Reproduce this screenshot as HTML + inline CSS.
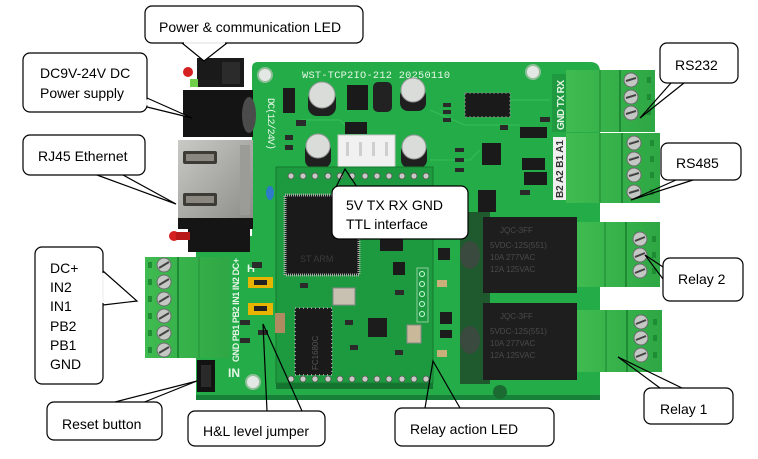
<!DOCTYPE html>
<html><head><meta charset="utf-8">
<style>
html,body{margin:0;padding:0;background:#fff;}
svg{display:block;}
.t{font-family:"Liberation Sans",Arial,sans-serif;font-size:14px;fill:#000;}
.bt{font-family:"Liberation Mono",monospace;fill:#e9f7ea;}
.lb{font-family:"Liberation Sans",Arial,sans-serif;font-weight:bold;fill:#e6f5e6;}
.rt{font-family:"Liberation Sans",Arial,sans-serif;font-size:8px;fill:#4a4a4a;}
</style></head>
<body>
<svg width="758" height="459" viewBox="0 0 758 459" xmlns="http://www.w3.org/2000/svg">
<defs>
<linearGradient id="rj" x1="0" y1="0" x2="1" y2="1">
<stop offset="0" stop-color="#c9c9c6"/><stop offset="1" stop-color="#8d8d89"/>
</linearGradient>
<linearGradient id="tg" x1="0" y1="0" x2="1" y2="0">
<stop offset="0" stop-color="#3fbb50"/><stop offset="1" stop-color="#2ea744"/>
</linearGradient>
</defs>
<rect width="758" height="459" fill="#fff"/>

<!-- main board -->
<path d="M196,236 L252,236 L252,68 Q252,62 258,62 L590,62 Q600,62 600,72 L600,394 Q600,400 594,400 L196,400 Z" fill="#23ac48"/>
<rect x="196" y="395" width="404" height="5" fill="#17813a"/>
<!-- traces -->
<g stroke="#38c15a" stroke-width="1.2" fill="none" opacity="0.8">
<path d="M300,120 L340,120 L360,140"/><path d="M430,110 L465,125 L520,125"/><path d="M430,160 L470,160 L480,150"/>
<path d="M510,100 L550,100"/><path d="M280,240 L276,250"/><path d="M440,220 L460,220"/>
</g>
<!-- holes -->
<circle cx="265" cy="75" r="7" fill="#e4e8e4" stroke="#8fbf98" stroke-width="2"/>
<circle cx="533" cy="72" r="7" fill="#e4e8e4" stroke="#8fbf98" stroke-width="2"/>
<circle cx="253" cy="382" r="7" fill="#e4e8e4" stroke="#8fbf98" stroke-width="2"/>
<!-- board text -->
<text class="bt" x="302" y="78" font-size="10.3" textLength="148">WST-TCP2IO-212  20250110</text>
<text class="bt" font-size="10" transform="translate(268,98) rotate(90)" textLength="52">DC(12/24V)</text>

<!-- top components -->
<rect x="283" y="88" width="12" height="25" fill="#1b1b1b"/>
<rect x="308" y="90" width="28" height="26" rx="9" fill="#1f1f1f"/>
<circle cx="322" cy="95" r="13" fill="#d9dcd9" stroke="#999" stroke-width="1"/>
<rect x="347" y="85" width="21" height="25" fill="#1a1a1a"/>
<rect x="373" y="82" width="19" height="30" rx="5" fill="#222"/>
<rect x="400" y="88" width="26" height="23" rx="8" fill="#1f1f1f"/>
<circle cx="413" cy="90" r="12" fill="#d9dcd9" stroke="#999" stroke-width="1"/>
<rect x="305" y="142" width="26" height="26" rx="8" fill="#1f1f1f"/>
<circle cx="318" cy="146" r="12" fill="#d9dcd9" stroke="#999" stroke-width="1"/>
<rect x="401" y="143" width="26" height="25" rx="8" fill="#1f1f1f"/>
<circle cx="414" cy="147" r="12" fill="#d9dcd9" stroke="#999" stroke-width="1"/>
<rect x="345" y="122" width="22" height="12" fill="#1a1a1a"/>
<rect x="338" y="135" width="57" height="33" fill="#f1f1f1" stroke="#c8c8c8"/>
<g fill="#cfcfcf"><rect x="346" y="142" width="3" height="14"/><rect x="359" y="142" width="3" height="14"/><rect x="372" y="142" width="3" height="14"/><rect x="385" y="142" width="3" height="14"/></g>
<rect x="465" y="93" width="45" height="24" fill="#1a1a1a" stroke="#888" stroke-dasharray="2,2"/>
<rect x="482" y="143" width="19" height="22" fill="#1a1a1a"/>
<rect x="478" y="190" width="18" height="22" fill="#1a1a1a"/>
<rect x="520" y="127" width="27" height="11" fill="#1a1a1a"/>
<rect x="522" y="158" width="23" height="12" fill="#1a1a1a"/>
<rect x="524" y="172" width="23" height="13" fill="#1a1a1a"/>
<g fill="#2a2a2a">
<rect x="296" y="120" width="10" height="6"/><rect x="285" y="135" width="8" height="5"/><rect x="285" y="145" width="8" height="5"/>
<rect x="443" y="103" width="8" height="4"/><rect x="443" y="110" width="8" height="4"/><rect x="443" y="118" width="8" height="4"/>
<rect x="455" y="148" width="9" height="4"/><rect x="455" y="158" width="9" height="4"/><rect x="455" y="168" width="9" height="4"/>
<rect x="540" y="117" width="10" height="5"/><rect x="500" y="125" width="8" height="5"/><rect x="520" y="190" width="10" height="5"/>
</g>

<!-- power jack & LED -->
<rect x="183" y="90" width="70" height="47" fill="#141414"/>
<ellipse cx="249" cy="115" rx="7" ry="18" fill="#4b4b4b"/>
<rect x="197" y="58" width="47" height="29" fill="#1a1a1a"/>
<rect x="222" y="62" width="18" height="22" fill="#2b2b2b"/>
<circle cx="188" cy="72" r="5" fill="#d42020"/>
<rect x="190" y="79" width="8" height="8" fill="#6fcf4a"/>

<!-- RJ45 -->
<rect x="178" y="140" width="75" height="78" fill="url(#rj)"/>
<rect x="178" y="218" width="75" height="11" fill="#151515"/>
<rect x="183" y="151" width="34" height="13" rx="2" fill="#3c3b36"/>
<rect x="186" y="154" width="28" height="7" fill="#8a8780"/>
<rect x="183" y="193" width="34" height="13" rx="2" fill="#3c3b36"/>
<rect x="186" y="196" width="28" height="7" fill="#8a8780"/>
<rect x="240" y="145" width="10" height="70" fill="#9b9b97"/>

<!-- left LED holder -->
<rect x="188" y="226" width="62" height="26" fill="#151515"/>
<circle cx="174" cy="236" r="5" fill="#d42020"/>
<rect x="176" y="232" width="14" height="8" fill="#b81818"/>

<!-- reset -->
<rect x="197" y="360" width="18" height="32" fill="#121212"/>
<rect x="201" y="365" width="10" height="22" fill="#2a2a2a"/>

<!-- left terminal -->
<rect x="145" y="257" width="85" height="101" fill="url(#tg)"/>
<line x1="178" y1="257" x2="178" y2="358" stroke="#1f8a34" stroke-width="2"/>
<line x1="199" y1="257" x2="199" y2="358" stroke="#2a9a3c" stroke-width="1.5"/>
<g fill="#1e8c33"><rect x="148" y="262" width="4" height="6"/><rect x="148" y="279" width="4" height="6"/><rect x="148" y="296" width="4" height="6"/><rect x="148" y="313" width="4" height="6"/><rect x="148" y="330" width="4" height="6"/><rect x="148" y="347" width="4" height="6"/></g>
<g stroke="#6b6b6b" fill="#c4c8c4" stroke-width="1">
<circle cx="164" cy="265" r="7"/><circle cx="164" cy="282" r="7"/><circle cx="164" cy="299" r="7"/><circle cx="164" cy="316" r="7"/><circle cx="164" cy="333" r="7"/><circle cx="164" cy="350" r="7"/>
</g>
<g stroke="#444" stroke-width="2"><line x1="159" y1="268" x2="169" y2="262"/><line x1="159" y1="285" x2="169" y2="279"/><line x1="159" y1="302" x2="169" y2="296"/><line x1="159" y1="319" x2="169" y2="313"/><line x1="159" y1="336" x2="169" y2="330"/><line x1="159" y1="353" x2="169" y2="347"/></g>
<text class="lb" font-size="9" transform="translate(239,362) rotate(-90)" textLength="104">GND  PB1  PB2  IN1  IN2  DC+</text>
<text class="lb" font-size="12" x="228" y="377">IN</text>
<text class="lb" font-size="11" x="247" y="272">H</text>

<!-- jumpers -->
<rect x="248" y="277" width="25" height="11" fill="#e8b400"/>
<rect x="254" y="280" width="13" height="5" fill="#222"/>
<rect x="248" y="303" width="25" height="12" fill="#e8b400"/>
<rect x="254" y="306" width="13" height="5" fill="#222"/>
<g fill="#2a2a2a"><rect x="252" y="262" width="10" height="6"/><rect x="240" y="320" width="10" height="5"/><rect x="258" y="330" width="10" height="5"/><rect x="240" y="338" width="10" height="5"/></g>

<!-- module board -->
<rect x="276" y="383" width="157" height="6" fill="#15742f"/>
<rect x="276" y="167" width="157" height="216" fill="#1d9a40" stroke="#167a2e"/>
<g fill="#c7c9c4" stroke="#555" stroke-width="0.8">
<circle cx="291" cy="176" r="3"/><circle cx="303" cy="176" r="3"/><circle cx="315" cy="176" r="3"/><circle cx="328" cy="176" r="3"/><circle cx="340" cy="176" r="3"/><circle cx="352" cy="176" r="3"/><circle cx="365" cy="176" r="3"/><circle cx="377" cy="176" r="3"/><circle cx="389" cy="176" r="3"/><circle cx="402" cy="176" r="3"/><circle cx="414" cy="176" r="3"/><circle cx="426" cy="176" r="3"/>
<circle cx="291" cy="379" r="3"/><circle cx="303" cy="379" r="3"/><circle cx="315" cy="379" r="3"/><circle cx="328" cy="379" r="3"/><circle cx="340" cy="379" r="3"/><circle cx="352" cy="379" r="3"/><circle cx="365" cy="379" r="3"/><circle cx="377" cy="379" r="3"/><circle cx="389" cy="379" r="3"/><circle cx="402" cy="379" r="3"/><circle cx="414" cy="379" r="3"/><circle cx="426" cy="379" r="3"/>
</g>
<rect x="285" y="195" width="74" height="80" fill="#1a1a1a" stroke="#aaa" stroke-width="3" stroke-dasharray="1,1"/>
<text x="300" y="262" font-family="Liberation Sans,Arial,sans-serif" font-size="9" fill="#3a3a3a">ST ARM</text>
<ellipse cx="270" cy="193" rx="4" ry="7" fill="#2d7bc9"/>
<rect x="333" y="288" width="22" height="17" fill="#c8c1b2" stroke="#888"/>
<rect x="295" y="308" width="37" height="67" fill="#1a1a1a" stroke="#999" stroke-width="2" stroke-dasharray="1,3"/>
<text font-family="Liberation Sans,Arial,sans-serif" font-size="8" fill="#555" transform="translate(318,370) rotate(-90)">FC1680C</text>
<rect x="368" y="318" width="19" height="19" fill="#1c1c1c"/>
<rect x="407" y="325" width="14" height="18" fill="#c9b99a" stroke="#888"/>
<rect x="275" y="313" width="10" height="20" fill="#b08a60"/>
<rect x="380" y="237" width="23" height="14" fill="#1a1a1a"/>
<rect x="393" y="262" width="12" height="13" fill="#1a1a1a"/>
<rect x="417" y="268" width="11" height="54" fill="none" stroke="#8fcf9c"/>
<g fill="none" stroke="#cfd" stroke-width="1"><circle cx="422" cy="274" r="2.5"/><circle cx="422" cy="284" r="2.5"/><circle cx="422" cy="294" r="2.5"/><circle cx="422" cy="304" r="2.5"/><circle cx="422" cy="314" r="2.5"/></g>
<g fill="#2a2a2a"><rect x="300" y="283" width="8" height="5"/><rect x="345" y="320" width="8" height="5"/><rect x="350" y="345" width="8" height="5"/><rect x="395" y="350" width="8" height="5"/><rect x="395" y="290" width="9" height="5"/></g>

<!-- relay area small parts -->
<g fill="#1c1c1c"><rect x="438" y="248" width="12" height="12"/><rect x="440" y="312" width="12" height="12"/><rect x="440" y="330" width="12" height="8"/><rect x="437" y="232" width="10" height="5"/></g>
<rect x="437" y="280" width="10" height="7" fill="#c9b07a"/>
<rect x="437" y="350" width="10" height="7" fill="#c9b07a"/>

<!-- relays -->
<rect x="460" y="212" width="30" height="172" fill="#1e5a2e"/>
<ellipse cx="470" cy="255" rx="10" ry="14" fill="#3b4a3e"/>
<ellipse cx="470" cy="340" rx="10" ry="14" fill="#3b4a3e"/>
<rect x="483" y="217" width="94" height="76" fill="#1e1e1e"/>
<rect x="483" y="303" width="94" height="77" fill="#1e1e1e"/>
<text class="rt" x="500" y="233" font-size="10">JQC-3FF</text>
<text class="rt" x="490" y="248">5VDC-12S(551)</text>
<text class="rt" x="490" y="260">10A 277VAC</text>
<text class="rt" x="490" y="272">12A 125VAC</text>
<text class="rt" x="500" y="319" font-size="10">JQC-3FF</text>
<text class="rt" x="490" y="334">5VDC-12S(551)</text>
<text class="rt" x="490" y="346">10A 277VAC</text>
<text class="rt" x="490" y="358">12A 125VAC</text>
<circle cx="500" cy="392" r="7" fill="#1b6a32"/>

<!-- RS232 terminal -->
<rect x="566" y="70" width="89" height="62" fill="url(#tg)"/>
<line x1="600" y1="70" x2="600" y2="132" stroke="#25953a" stroke-width="1.5"/>
<line x1="620" y1="70" x2="620" y2="132" stroke="#1f8a34" stroke-width="2"/>
<!-- RS485 terminal -->
<rect x="566" y="133" width="94" height="70" fill="url(#tg)"/>
<line x1="600" y1="133" x2="600" y2="203" stroke="#25953a" stroke-width="1.5"/>
<line x1="622" y1="133" x2="622" y2="203" stroke="#1f8a34" stroke-width="2"/>
<!-- vertical labels right (drawn over terminals) -->
<rect x="552" y="74" width="14" height="58" fill="#1f9a40"/>
<text class="lb" font-size="10" transform="translate(564,130) rotate(-90)" textLength="50">GND TX RX</text>
<rect x="553" y="137" width="13" height="63" fill="#f0f0f0"/>
<text font-family="Liberation Sans,Arial,sans-serif" font-weight="bold" font-size="10" fill="#333" transform="translate(563,198) rotate(-90)" textLength="58">B2 A2 B1 A1</text>
<!-- relay terminals -->
<rect x="577" y="222" width="83" height="65" fill="url(#tg)"/>
<line x1="605" y1="222" x2="605" y2="287" stroke="#25953a" stroke-width="1.5"/>
<line x1="626" y1="222" x2="626" y2="287" stroke="#1f8a34" stroke-width="2"/>
<rect x="577" y="310" width="85" height="62" fill="url(#tg)"/>
<line x1="606" y1="310" x2="606" y2="372" stroke="#25953a" stroke-width="1.5"/>
<line x1="627" y1="310" x2="627" y2="372" stroke="#1f8a34" stroke-width="2"/>
<g fill="#1e8c33">
<rect x="647" y="77" width="4" height="6"/><rect x="647" y="94" width="4" height="6"/><rect x="647" y="109" width="4" height="6"/>
<rect x="650" y="140" width="4" height="6"/><rect x="650" y="156" width="4" height="6"/><rect x="650" y="172" width="4" height="6"/><rect x="650" y="189" width="4" height="6"/>
<rect x="652" y="236" width="4" height="6"/><rect x="652" y="252" width="4" height="6"/><rect x="652" y="268" width="4" height="6"/>
<rect x="653" y="319" width="4" height="6"/><rect x="653" y="335" width="4" height="6"/><rect x="653" y="352" width="4" height="6"/>
</g>
<g stroke="#6b6b6b" fill="#c4c8c4" stroke-width="1">
<circle cx="631" cy="80" r="7"/><circle cx="631" cy="97" r="7"/><circle cx="631" cy="113" r="7"/>
<circle cx="634" cy="143" r="7"/><circle cx="634" cy="159" r="7"/><circle cx="634" cy="175" r="7"/><circle cx="634" cy="192" r="7"/>
<circle cx="640" cy="239" r="7"/><circle cx="640" cy="255" r="7"/><circle cx="640" cy="271" r="7"/>
<circle cx="641" cy="322" r="7"/><circle cx="641" cy="338" r="7"/><circle cx="641" cy="355" r="7"/>
</g>
<g stroke="#444" stroke-width="2">
<line x1="626" y1="81" x2="636" y2="78"/><line x1="626" y1="98" x2="636" y2="95"/><line x1="626" y1="114" x2="636" y2="111"/>
<line x1="629" y1="144" x2="639" y2="141"/><line x1="629" y1="160" x2="639" y2="157"/><line x1="629" y1="176" x2="639" y2="173"/><line x1="629" y1="193" x2="639" y2="190"/>
<line x1="635" y1="241" x2="645" y2="237"/><line x1="635" y1="257" x2="645" y2="253"/><line x1="635" y1="273" x2="645" y2="269"/>
<line x1="636" y1="324" x2="646" y2="320"/><line x1="636" y1="340" x2="646" y2="336"/><line x1="636" y1="357" x2="646" y2="353"/>
</g>

<!-- callout tails -->
<g stroke="#000" stroke-width="1.2" fill="none">
<polyline points="182,43 204,61 227,43" fill="#fff"/>
<polyline points="147,98 192,118 147,107" fill="#fff"/>
<polyline points="97,175 176,204 123,175"/>
<polyline points="336,187 345,169 357,187"/>
<polyline points="671,83 640,118 684,83"/>
<polyline points="676,180 631,200 693,180"/>
<polyline points="103,271 137,301 103,305" fill="#fff"/>
<polyline points="115,402 197,381 142,403"/>
<polyline points="267,411 263,324 302,411"/>
<polyline points="425,408 433,361 460,408"/>
<polyline points="663,267 645,255 663,279"/>
<polyline points="660,388 618,357 682,388"/>
</g>

<!-- callout boxes -->
<g fill="#fff" stroke="#000" stroke-width="1.2">
<rect x="145" y="6" width="218" height="37" rx="7"/>
<rect x="23" y="53" width="124" height="59" rx="7"/>
<rect x="23" y="135" width="122" height="40" rx="7"/>
<rect x="332" y="186" width="136" height="53" rx="7"/>
<rect x="660" y="43" width="78" height="40" rx="7"/>
<rect x="661" y="143" width="80" height="37" rx="7"/>
<rect x="35" y="247" width="68" height="137" rx="7"/>
<rect x="47" y="402" width="115" height="38" rx="7"/>
<rect x="188" y="411" width="137" height="35" rx="7"/>
<rect x="395" y="408" width="159" height="38" rx="7"/>
<rect x="663" y="258" width="80" height="43" rx="7"/>
<rect x="644" y="388" width="89" height="36" rx="7"/>
</g>
<!-- merge tails into boxes -->
<g stroke="#fff" stroke-width="1.6">
<line x1="184" y1="43" x2="225" y2="43"/>
<line x1="147" y1="99.5" x2="147" y2="105.5"/>
<line x1="103" y1="273" x2="103" y2="303"/>
</g>

<!-- callout texts -->
<text class="t" x="159" y="32">Power &amp; communication LED</text>
<text class="t" x="40" y="78">DC9V-24V DC</text>
<text class="t" x="40" y="98">Power supply</text>
<text class="t" x="38" y="161">RJ45 Ethernet</text>
<text class="t" x="346" y="210">5V TX RX GND</text>
<text class="t" x="346" y="229">TTL interface</text>
<text class="t" x="675" y="70">RS232</text>
<text class="t" x="676" y="168">RS485</text>
<text class="t" x="50" y="273">DC+</text>
<text class="t" x="50" y="292">IN2</text>
<text class="t" x="50" y="311">IN1</text>
<text class="t" x="50" y="331">PB2</text>
<text class="t" x="50" y="350">PB1</text>
<text class="t" x="50" y="369">GND</text>
<text class="t" x="62" y="429">Reset button</text>
<text class="t" x="203" y="436">H&amp;L level jumper</text>
<text class="t" x="410" y="434">Relay action LED</text>
<text class="t" x="678" y="284">Relay 2</text>
<text class="t" x="660" y="414">Relay 1</text>
</svg>
</body></html>
